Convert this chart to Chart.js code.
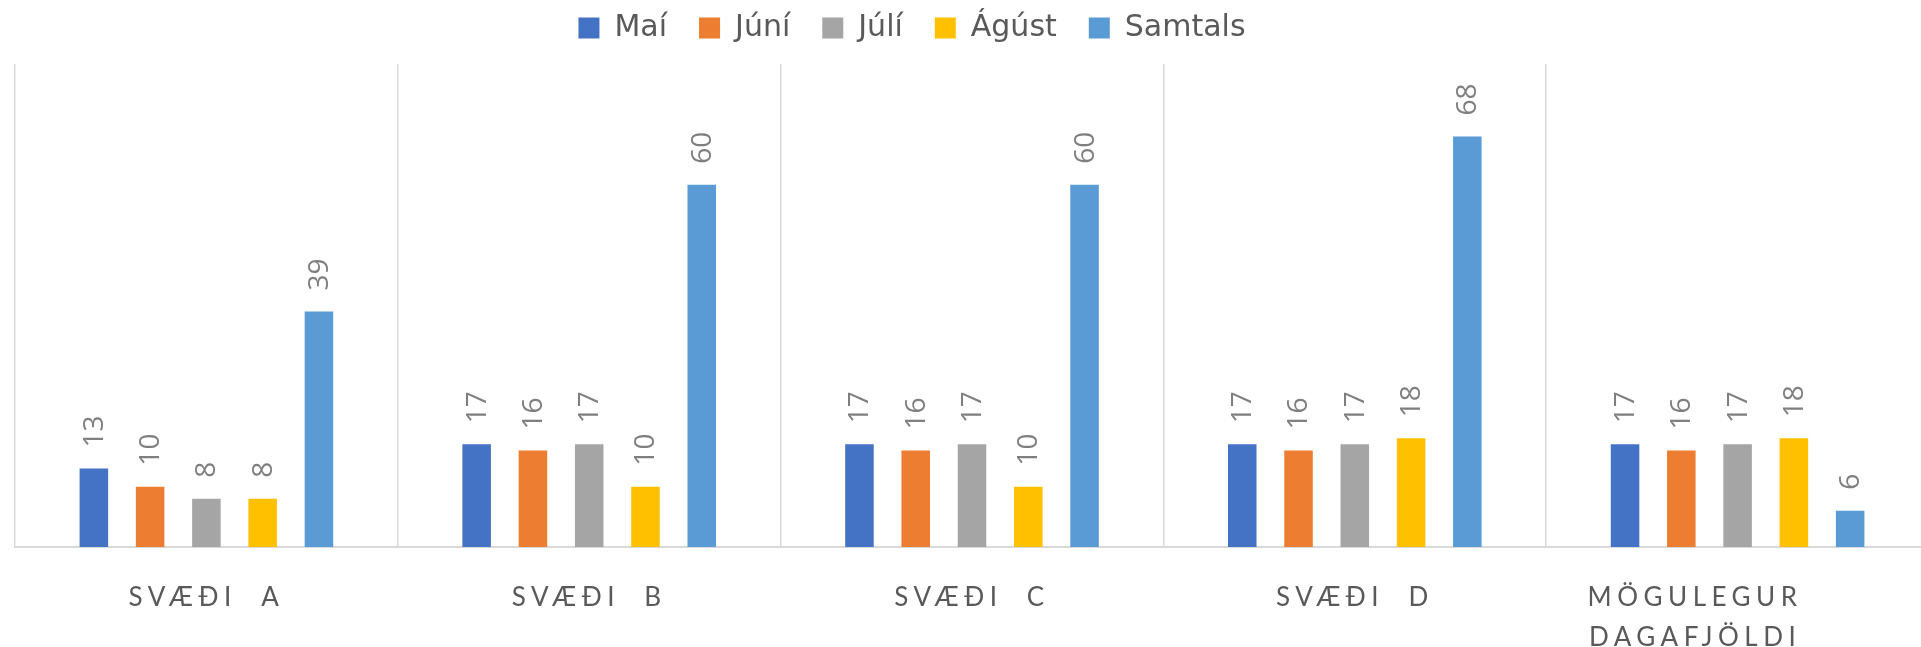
<!DOCTYPE html>
<html>
<head>
<meta charset="utf-8">
<script src="https://cdn.jsdelivr.net/npm/chart.js@4.4.1/dist/chart.umd.min.js"></script>
<style>
  html, body { margin: 0; padding: 0; background: #ffffff; overflow: hidden; width: 1921px; height: 647px; }
  #wrap { width: 1929px; height: 647px; position: relative; }
</style>
</head>
<body>
<div id="wrap"><canvas id="c"></canvas></div>
<script>
// ---- data ----
const categories = ['SVÆÐI A', 'SVÆÐI B', 'SVÆÐI C', 'SVÆÐI D', ['MÖGULEGUR', 'DAGAFJÖLDI']];
const seriesNames = ['Maí', 'Júní', 'Júlí', 'Ágúst', 'Samtals'];
const mai     = [13, 17, 17, 17, 17];
const juni    = [10, 16, 16, 16, 16];
const juli    = [8, 17, 17, 17, 17];
const agust   = [8, 10, 10, 18, 18];
const samtals = [39, 60, 60, 68, 6];
const seriesColors = ['#4472C4', '#ED7D31', '#A5A5A5', '#FFC000', '#5B9BD5'];

const seriesValues = [mai, juni, juli, agust, samtals];

// value labels (rotated) drawn from the bar elements
const valueLabels = {
  id: 'valueLabels',
  afterDatasetsDraw(chart) {
    const ctx = chart.ctx;
    ctx.save();
    ctx.font = '28px "Open Sans"';
    ctx.fillStyle = '#7f7f7f';
    ctx.textAlign = 'left';
    ctx.textBaseline = 'middle';
    chart.data.datasets.forEach((ds, di) => {
      const meta = chart.getDatasetMeta(di);
      meta.data.forEach((bar, i) => {
        ctx.save();
        ctx.translate(bar.x + 1, bar.y - 21);
        ctx.rotate(-Math.PI / 2);
        ctx.fillText(String(ds.data[i]), 0, 0);
        ctx.restore();
      });
    });
    ctx.restore();
  }
};

// letter-spaced axis labels + legend placement
const styling = {
  id: 'styling',
  afterLayout(chart) {
    const lg = chart.legend;
    if (lg) {
      lg.left -= 60; lg.right -= 60;
      lg.top -= 11; lg.bottom -= 11;
    }
  },
  beforeDraw(chart) {
    const sx = chart.scales.x;
    if (sx && !sx._lsPatched) {
      const orig = sx.drawLabels;
      sx.drawLabels = function (area) {
        const c = this.ctx;
        c.save();
        try { c.letterSpacing = '5.5px'; } catch (e) {}
        orig.call(this, area);
        c.restore();
      };
      sx._lsPatched = true;
    }
  }
};

const datasets = seriesNames.map((name, k) => ({
  label: name,
  data: seriesValues[k],
  backgroundColor: seriesColors[k],
  borderWidth: 0,
  categoryPercentage: 0.735,
  barPercentage: 0.507
}));

new Chart(document.getElementById('c'), {
  type: 'bar',
  data: { labels: categories, datasets },
  options: {
    responsive: true,
    maintainAspectRatio: false,
    animation: false,
    layout: { padding: { left: 15, right: 0, top: -8, bottom: 0 } },
    plugins: {
      legend: {
        position: 'top',
        labels: {
          boxWidth: 21,
          boxHeight: 21,
          padding: 32,
          color: '#595959',
          font: { family: '"DejaVu Sans"', size: 30 }
        }
      },
      tooltip: { enabled: false }
    },
    scales: {
      x: {
        grid: { display: true, offset: true, color: '#d9d9d9', lineWidth: 1.5, drawTicks: false },
        border: { display: true, color: '#d9d9d9', width: 2 },
        ticks: {
          color: '#595959',
          font: { family: 'Lato', size: 26, lineHeight: 1.55 },
          padding: 30,
          maxRotation: 0,
          autoSkip: false,
          callback(value) {
            const l = this.getLabelForValue(value);
            // the last (two-line) label sits left of its slot, as in the reference
            return Array.isArray(l) ? l.map(s => s + '\u00a0'.repeat(7)) : l.replace(' ', '  ');
          }
        },
        afterFit(scale) { scale.height = 100; }
      },
      y: {
        display: false,
        min: 0,
        max: 80
      }
    }
  },
  plugins: [valueLabels, styling]
});
</script>
</body>
</html>
